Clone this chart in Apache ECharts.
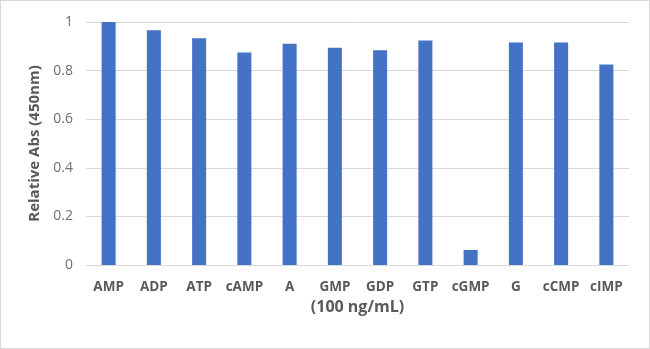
<!DOCTYPE html>
<html>
<head>
<meta charset="utf-8">
<script src="https://cdn.jsdelivr.net/npm/echarts@6/dist/echarts.min.js"></script>
<style>
  html, body { margin: 0; padding: 0; background: #fff; }
  #chart { width: 650px; height: 349px; box-sizing: border-box; border: 1px solid #d9d9d9; }
</style>
</head>
<body>
<div id="chart"></div>
<script>
// Nucleotide panel, 100 ng/mL each
const categories = ['AMP', 'ADP', 'ATP', 'cAMP', 'A', 'GMP', 'GDP', 'GTP', 'cGMP', 'G', 'cCMP', 'cIMP'];
const relativeAbs = [1.0, 0.966, 0.933, 0.875, 0.910, 0.894, 0.884, 0.924, 0.062, 0.916, 0.916, 0.825];
const yTicks = [0, 0.2, 0.4, 0.6, 0.8, 1];

const font = '"Open Sans", "Segoe UI", sans-serif';
const chart = echarts.init(document.getElementById('chart'), null, { renderer: 'canvas' });
chart.setOption({
  animation: false,
  grid: { left: 85, right: 20, top: 21, bottom: 83 },
  xAxis: {
    type: 'category',
    data: categories,
    name: '(100 ng/mL)',
    nameLocation: 'middle',
    nameGap: 34,
    nameTextStyle: { fontFamily: font, fontSize: 16, fontWeight: 'bold', color: '#595959' },
    axisLine: { lineStyle: { color: '#d9d9d9', width: 1 } },
    axisTick: { show: false },
    axisLabel: { fontFamily: font, fontSize: 13.5, fontWeight: 'bold', color: '#595959', margin: 15, interval: 0 }
  },
  yAxis: {
    type: 'value',
    min: 0,
    max: 1,
    interval: 0.2,
    name: 'Relative Abs (450nm)',
    nameLocation: 'middle',
    nameGap: 42,
    nameTextStyle: { fontFamily: font, fontSize: 15, fontWeight: 'bold', color: '#595959' },
    axisLine: { show: false },
    axisTick: { show: false },
    axisLabel: {
      fontFamily: font, fontSize: 14, color: '#6f6f6f', margin: 13,
      formatter: v => {
        const t = yTicks.find(x => Math.abs(x - v) < 1e-9);
        return t === undefined ? '' : String(t);
      }
    },
    splitLine: { lineStyle: { color: '#d9d9d9', width: 1 } }
  },
  series: [{
    type: 'bar',
    data: relativeAbs,
    barWidth: '31%',
    itemStyle: { color: '#4472c4' }
  }]
});
</script>
</body>
</html>
